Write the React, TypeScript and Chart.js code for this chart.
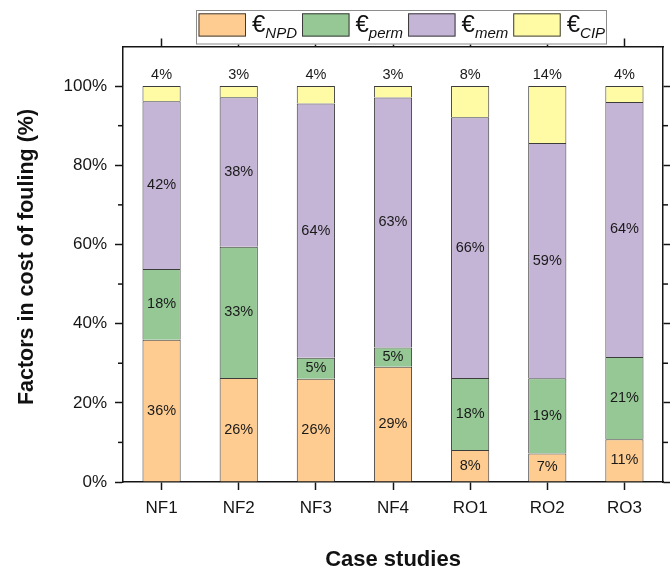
import React, { useEffect, useRef } from "react";
import { Chart, registerables } from "chart.js";

Chart.register(...registerables);

// ---- data ----
const categories = ["NF1", "NF2", "NF3", "NF4", "RO1", "RO2", "RO3"];
const npdValues = [35.9, 26.3, 26.1, 29.1, 8.1, 7.2, 10.8];
const permValues = [17.9, 33.1, 5.3, 4.9, 18.2, 19.0, 20.8];
const memValues = [42.4, 37.8, 64.2, 63.1, 65.8, 59.4, 64.4];
const cipValues = [3.8, 2.8, 4.4, 2.9, 7.9, 14.4, 4.0];
const seriesSubscripts = ["NPD", "perm", "mem", "CIP"];
const yMajorTicks = [0, 20, 40, 60, 80, 100];
const yMinorTicks = [10, 30, 50, 70, 90];
const xTitle = "Case studies";
const yTitle = "Factors in cost of fouling (%)";

const colors = ["#FECC91", "#95C895", "#C4B4D6", "#FFFBA5"];
const FONT = "'Liberation Sans', Arial, Helvetica, sans-serif";
const AXIS = "#151515";

const majorTickColor = (ctx: any) => {
  const v = ctx.tick ? ctx.tick.value : -1;
  return yMajorTicks.includes(v) ? AXIS : "rgba(0,0,0,0)";
};

const decorPlugin = {
  id: "decor",
  afterDatasetsDraw(chart: any) {
    const { ctx } = chart;
    ctx.save();
    ctx.fillStyle = "#1a1a1a";
    ctx.font = `14.5px ${FONT}`;
    ctx.textAlign = "center";
    ctx.textBaseline = "middle";
    chart.data.datasets.forEach((ds: any, di: number) => {
      const meta = chart.getDatasetMeta(di);
      meta.data.forEach((el: any, i: number) => {
        const v = ds.data[i];
        const txt = Math.round(v) + "%";
        if (di === 3) {
          const top = Math.min(el.y, el.base);
          ctx.fillText(txt, el.x, top - 11);
        } else {
          ctx.fillText(txt, el.x, (el.y + el.base) / 2);
        }
      });
    });
    ctx.restore();
  },
  afterDraw(chart: any) {
    const { ctx, chartArea } = chart;
    ctx.save();
    // minor ticks
    ctx.strokeStyle = AXIS;
    ctx.lineWidth = 1.5;
    const yl = chart.scales.y;
    const yr = chart.scales.yRight;
    yMinorTicks.forEach((v) => {
      const p1 = yl.getPixelForValue(v);
      ctx.beginPath();
      ctx.moveTo(chartArea.left, p1);
      ctx.lineTo(chartArea.left - 5, p1);
      ctx.stroke();
      const p2 = yr.getPixelForValue(v);
      ctx.beginPath();
      ctx.moveTo(chartArea.right, p2);
      ctx.lineTo(chartArea.right + 5, p2);
      ctx.stroke();
    });

    // axis titles
    ctx.fillStyle = "#111";
    ctx.font = `bold 22px ${FONT}`;
    ctx.textAlign = "center";
    ctx.textBaseline = "alphabetic";
    ctx.fillText(xTitle, (chartArea.left + chartArea.right) / 2, 566);
    ctx.save();
    ctx.translate(33, 257);
    ctx.rotate(-Math.PI / 2);
    ctx.font = `bold 21.5px ${FONT}`;
    ctx.fillText(yTitle, 0, 0);
    ctx.restore();

    // legend
    const lx0 = 196, ly0 = 10, lx1 = 607, ly1 = 44.5;
    ctx.fillStyle = "#ffffff";
    ctx.fillRect(lx0, ly0, lx1 - lx0, ly1 - ly0);
    ctx.strokeStyle = "#8c8c8c";
    ctx.lineWidth = 1;
    ctx.strokeRect(lx0 + 0.5, ly0 + 0.5, lx1 - lx0 - 1, ly1 - ly0 - 1);
    let x = 198.5;
    seriesSubscripts.forEach((sub, i) => {
      ctx.fillStyle = colors[i];
      ctx.fillRect(x, 13.3, 47.5, 23.3);
      ctx.strokeStyle = "#3a3a3a";
      ctx.lineWidth = 1;
      ctx.strokeRect(x + 0.5, 13.8, 46.5, 22.3);
      x += 47.5 + 6;
      ctx.fillStyle = "#111";
      ctx.textAlign = "left";
      ctx.textBaseline = "alphabetic";
      ctx.font = `24px ${FONT}`;
      ctx.fillText("€", x, 32);
      x += ctx.measureText("€").width;
      ctx.font = `italic 15px ${FONT}`;
      ctx.fillText(sub, x, 37.5);
      x += ctx.measureText(sub).width + 5;
    });
    ctx.restore();
  },
};

export default function App() {
  const ref = useRef<HTMLCanvasElement | null>(null);

  useEffect(() => {
    if (!ref.current) return;
    const datasetsSrc = [npdValues, permValues, memValues, cipValues];
    const chart = new Chart(ref.current, {
      type: "bar",
      data: {
        labels: categories,
        datasets: datasetsSrc.map((d, i) => ({
          label: seriesSubscripts[i],
          data: d,
          backgroundColor: colors[i],
          borderColor: "#3c3c3c",
          borderWidth: 1,
          borderSkipped: "start",
          barPercentage: 0.495,
          categoryPercentage: 1,
        })),
      },
      options: {
        responsive: false,
        animation: false,
        events: [],
        layout: { padding: { top: 38.5, left: 0, right: 0, bottom: 0 } },
        plugins: {
          legend: { display: false },
          tooltip: { enabled: false },
        },
        scales: {
          x: {
            type: "category",
            position: "bottom",
            stacked: true,
            offset: true,
            grid: {
              offset: false,
              drawOnChartArea: false,
              drawTicks: true,
              tickLength: 8,
              tickColor: AXIS,
              tickWidth: 1.5,
            },
            border: { display: true, color: AXIS, width: 1.5 },
            ticks: {
              color: "#151515",
              font: { family: FONT, size: 17 },
              padding: 8,
              maxRotation: 0,
            },
            afterFit: (s: any) => {
              s.height = 86;
            },
          },
          xTop: {
            type: "category",
            position: "top",
            offset: true,
            grid: {
              offset: false,
              drawOnChartArea: false,
              drawTicks: true,
              tickLength: 8,
              tickColor: AXIS,
              tickWidth: 1.5,
            },
            border: { display: true, color: AXIS, width: 1.5 },
            ticks: { display: false },
            afterFit: (s: any) => {
              s.height = 8;
            },
          },
          y: {
            type: "linear",
            position: "left",
            stacked: true,
            min: 0,
            max: 110,
            ticks: {
              stepSize: 10,
              color: "#151515",
              font: { family: FONT, size: 17 },
              padding: 8,
              callback: (v: any) => (yMajorTicks.includes(Number(v)) ? v + "%" : ""),
            },
            grid: {
              drawOnChartArea: false,
              drawTicks: true,
              tickLength: 8,
              tickColor: majorTickColor,
              tickWidth: 1.5,
            },
            border: { display: true, color: AXIS, width: 1.5 },
            afterFit: (s: any) => {
              s.width = 123;
            },
          },
          yRight: {
            type: "linear",
            position: "right",
            min: 0,
            max: 110,
            ticks: { display: false, stepSize: 10 },
            grid: {
              drawOnChartArea: false,
              drawTicks: true,
              tickLength: 8,
              tickColor: majorTickColor,
              tickWidth: 1.5,
            },
            border: { display: true, color: AXIS, width: 1.5 },
            afterFit: (s: any) => {
              s.width = 7;
            },
          },
        },
      } as any,
      plugins: [decorPlugin],
    });
    return () => chart.destroy();
  }, []);

  return (
    <div style={{ position: "absolute", left: 0, top: 0, width: 670, height: 568, background: "#fff" }}>
      <canvas ref={ref} width={670} height={568} style={{ width: 670, height: 568, display: "block" }} />
    </div>
  );
}
